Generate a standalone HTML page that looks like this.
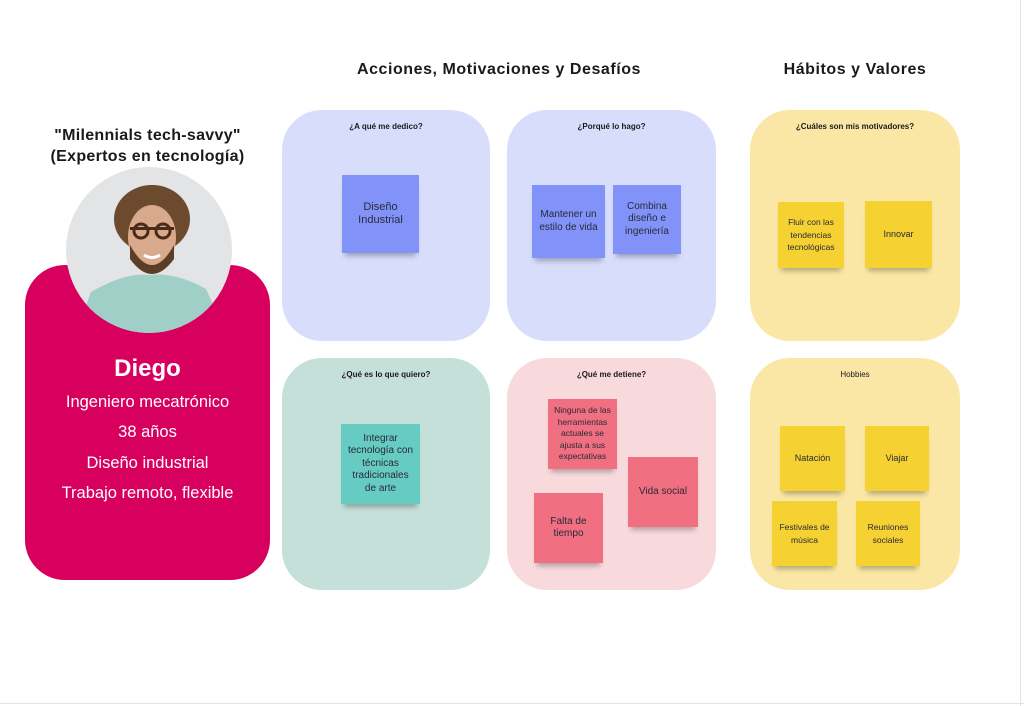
<!DOCTYPE html>
<html><head><meta charset="utf-8"><style>
*{margin:0;padding:0;box-sizing:border-box}
body{width:1024px;height:706px;background:#fff;position:relative;overflow:hidden;font-family:"Liberation Sans",sans-serif;color:#1a1a1a}
.a{position:absolute}
.h{font-weight:bold;font-size:16px;text-align:center;white-space:nowrap}
.p{position:absolute;border-radius:40px}
.t{position:absolute;left:0;right:0;text-align:center;font-size:8px;font-weight:bold;top:12px}
.s{position:absolute;display:flex;align-items:center;justify-content:center;text-align:center;font-size:10px;line-height:12.5px;color:#2a2a3a;box-shadow:0 6px 5px -3px rgba(0,0,0,.28)}
.b{background:#8192f8}.g{background:#66cbc2}.r{background:#f06f80}.y{background:#f5d132}
.c{color:#fff;text-align:center;font-size:16.5px;position:absolute;left:25px;width:245px}
</style></head><body>
<div class="a" style="right:3px;top:0;width:1px;height:706px;background:#e4e4e4"></div>
<div class="a" style="left:0;bottom:2px;width:1024px;height:1px;background:#e4e4e4"></div>

<div class="a h" style="left:290px;width:418px;top:61px;letter-spacing:.55px">Acciones, Motivaciones y Desafíos</div>
<div class="a h" style="left:740px;width:230px;top:61px;letter-spacing:.55px">Hábitos y Valores</div>
<div class="a h" style="left:20px;width:255px;top:125px;line-height:21px;letter-spacing:.3px">"Milennials tech-savvy"<br>(Expertos en tecnología)</div>

<div class="p" style="left:25px;top:265px;width:245px;height:315px;background:#d8005f"></div>
<svg class="a" style="left:66px;top:167px" width="166" height="166" viewBox="0 0 166 166">
<defs><clipPath id="cc"><circle cx="83" cy="83" r="83"/></clipPath></defs>
<g clip-path="url(#cc)">
<rect width="166" height="166" fill="#e2e4e6"/>
<path d="M10 166 L25 125 Q60 105 83 108 Q110 105 140 122 L160 166Z" fill="#9fcfc6"/>
<ellipse cx="86" cy="52" rx="38" ry="34" fill="#6b4a2e"/>
<ellipse cx="86" cy="70" rx="24" ry="32" fill="#d9a98c"/>
<path d="M64 78 Q86 118 108 78 L108 92 Q86 122 64 92Z" fill="#5a3e28"/>
<rect x="64" y="60" width="44" height="3" fill="#4a2a18"/>
<circle cx="75" cy="64" r="7" fill="none" stroke="#4a2a18" stroke-width="3"/>
<circle cx="97" cy="64" r="7" fill="none" stroke="#4a2a18" stroke-width="3"/>
<path d="M78 88 Q86 93 94 88" stroke="#fff" stroke-width="3" fill="none"/>
</g></svg>
<div class="c" style="top:355px;font-weight:bold;font-size:24px">Diego</div>
<div class="c" style="top:393px">Ingeniero mecatrónico</div>
<div class="c" style="top:423px">38 años</div>
<div class="c" style="top:454px">Diseño industrial</div>
<div class="c" style="top:484px">Trabajo remoto, flexible</div>

<div class="p" style="left:282px;top:110px;width:208px;height:231px;background:#d8ddfb"><div class="t">¿A qué me dedico?</div></div>
<div class="p" style="left:507px;top:110px;width:209px;height:231px;background:#d8ddfb"><div class="t">¿Porqué lo hago?</div></div>
<div class="p" style="left:282px;top:358px;width:208px;height:232px;background:#c5e0d9"><div class="t">¿Qué es lo que quiero?</div></div>
<div class="p" style="left:507px;top:358px;width:209px;height:232px;background:#f8dadd"><div class="t">¿Qué me detiene?</div></div>
<div class="p" style="left:750px;top:110px;width:210px;height:231px;background:#fae7a5"><div class="t">¿Cuáles son mis motivadores?</div></div>
<div class="p" style="left:750px;top:358px;width:210px;height:232px;background:#fae7a5"><div class="t" style="font-weight:normal">Hobbies</div></div>

<div class="s b" style="left:342px;top:175px;width:77px;height:78px;font-size:11px;line-height:13.5px">Diseño<br>Industrial</div>
<div class="s b" style="left:532px;top:185px;width:73px;height:73px">Mantener un<br>estilo de vida</div>
<div class="s b" style="left:613px;top:185px;width:68px;height:69px">Combina<br>diseño e<br>ingeniería</div>
<div class="s g" style="left:341px;top:424px;width:79px;height:80px">Integrar<br>tecnología con<br>técnicas<br>tradicionales<br>de arte</div>
<div class="s r" style="left:548px;top:399px;width:69px;height:70px;font-size:8.5px;line-height:11.5px">Ninguna de las<br>herramientas<br>actuales se<br>ajusta a sus<br>expectativas</div>
<div class="s r" style="left:628px;top:457px;width:70px;height:70px">Vida social</div>
<div class="s r" style="left:534px;top:493px;width:69px;height:70px">Falta de<br>tiempo</div>
<div class="s y" style="left:778px;top:202px;width:66px;height:66px;font-size:8.5px">Fluir con las<br>tendencias<br>tecnológicas</div>
<div class="s y" style="left:865px;top:201px;width:67px;height:67px;font-size:9px">Innovar</div>
<div class="s y" style="left:780px;top:426px;width:65px;height:65px;font-size:9px">Natación</div>
<div class="s y" style="left:865px;top:426px;width:64px;height:65px;font-size:9px">Viajar</div>
<div class="s y" style="left:772px;top:501px;width:65px;height:65px;font-size:8.5px">Festivales de<br>música</div>
<div class="s y" style="left:856px;top:501px;width:64px;height:65px;font-size:8.5px">Reuniones<br>sociales</div>
</body></html>
